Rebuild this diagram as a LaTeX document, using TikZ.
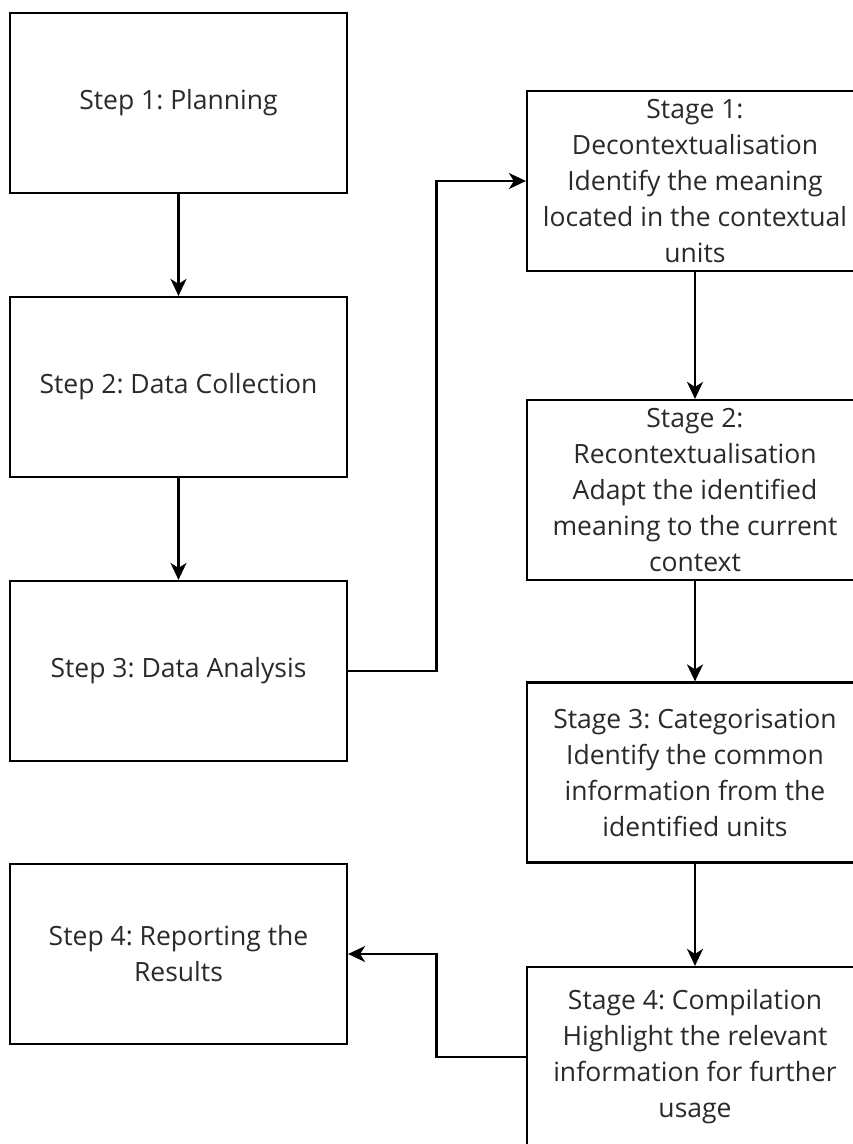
\documentclass[tikz,border=0pt]{standalone}
\usepackage{fontspec}
\setmainfont{Open Sans}
\usetikzlibrary{arrows.meta}
\definecolor{txt}{HTML}{2A2A2A}
\frenchspacing
\tikzset{
  box/.style={draw=black, line width=2.2pt, fill=white, minimum width=337pt, minimum height=180pt,
    align=center, text=txt, font=\fontsize{26.5}{36}\selectfont\frenchspacing, inner sep=0pt},
  conn/.style={line width=2.2pt, -{Stealth[length=17pt,width=16pt,inset=5pt]}}
}
\begin{document}
\begin{tikzpicture}[x=1pt,y=-1pt]
\useasboundingbox (0,0) rectangle (853,1144);
\fill[white] (0,0) rectangle (853,1144);
\node[box] (s1) at (178.5,103) {Step 1: Planning};
\node[box] (s2) at (178.5,387) {Step 2: Data Collection};
\node[box] (s3) at (178.5,671) {Step 3: Data Analysis};
\node[box] (s4) at (178.5,954) {Step 4: Reporting the\\Results};
\node[box, minimum width=336pt] (g1) at (695,181) {Stage 1:\\Decontextualisation\\Identify the meaning\\located in the contextual\\units};
\node[box, minimum width=336pt] (g2) at (695,490) {Stage 2:\\Recontextualisation\\Adapt the identified\\meaning to the current\\context};
\node[box, minimum width=336pt] (g3) at (695,772.5) {Stage 3: Categorisation\\Identify the common\\information from the\\identified units};
\node[box, minimum width=336pt] (g4) at (695,1057) {Stage 4: Compilation\\Highlight the relevant\\information for further\\usage};
\draw[conn] (s1) -- (s2);
\draw[conn] (s2) -- (s3);
\draw[conn] (s3.east) -- (436.5,671) |- (g1.west);
\draw[conn] (g1) -- (g2);
\draw[conn] (g2) -- (g3);
\draw[conn] (g3) -- (g4);
\draw[conn] (g4.west) -- (436.5,1057) |- (s4.east);
\end{tikzpicture}
\end{document}
